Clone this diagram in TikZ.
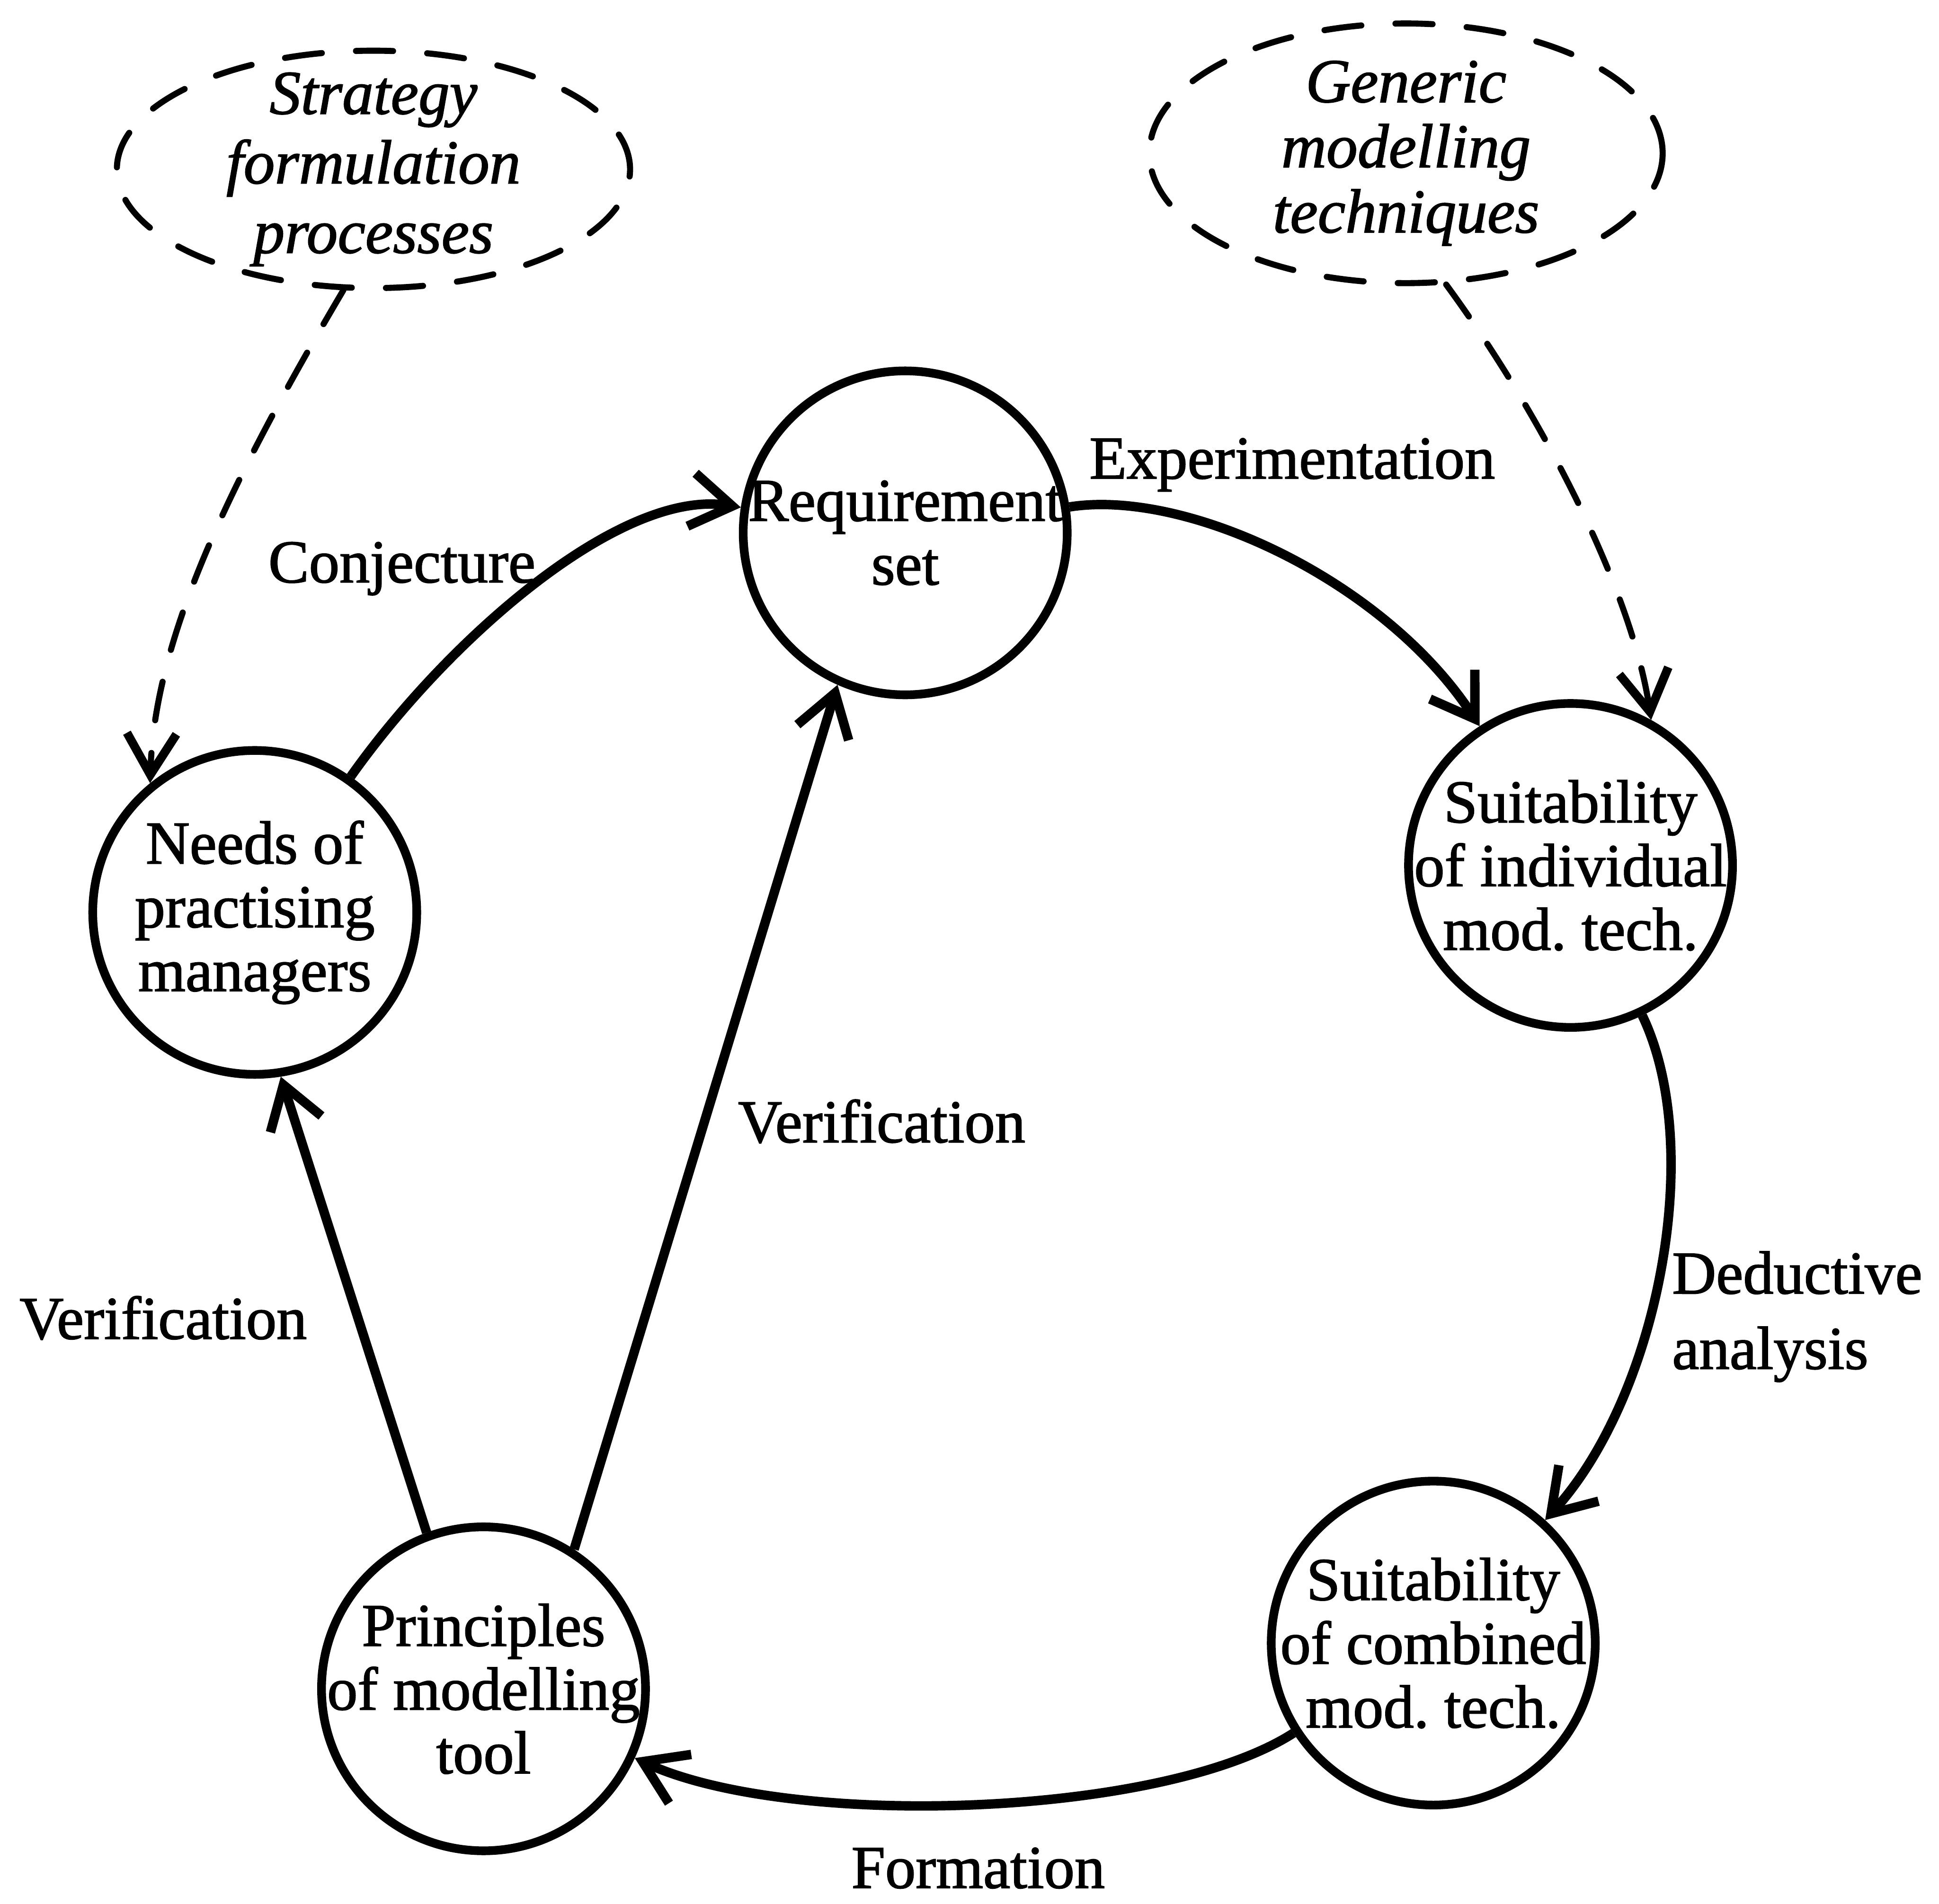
\documentclass[tikz,border=0pt]{standalone}
\usepackage{fontspec}
\setmainfont{Liberation Serif}[FakeBold=1.5]
\usetikzlibrary{shapes.geometric,arrows.meta}

\begin{document}
\begin{tikzpicture}[x=0.03cm,y=-0.03cm,
  stage/.style={circle,draw,line width=6pt,minimum size=7.86cm,inner sep=0pt},
  pool/.style={ellipse,draw,line width=4.2pt,line cap=round,dash pattern=on 0.9cm off 0.83cm,inner sep=0pt},
  stagetext/.style={align=center,font=\fontsize{42pt}{44pt}\selectfont,inner sep=0pt},
  pooltext/.style={align=center,font=\fontsize{43pt}{48pt}\selectfont\itshape,inner sep=0pt},
  flow/.style={line width=6.5pt,-{Straight Barb[length=1.0cm,width=1.3cm]}},
  feed/.style={line width=4.2pt,line cap=round,dash pattern=on 0.95cm off 0.8cm,
    -{Straight Barb[length=1.0cm,width=1.2cm,line width=6pt]}},
  lbl/.style={font=\fontsize{42pt}{52pt}\selectfont,inner sep=0pt},
]
\useasboundingbox (0,0) rectangle (1568,1540);

% process stages
\node[stage,label={[stagetext]center:{Requirement\\set}}] (req) at (732,431) {};
\node[stage,label={[stagetext]center:{Needs of\\practising\\managers}}] (needs) at (206,738) {};
\node[stage,label={[stagetext]center:{Suitability\\of individual\\mod.\ tech.}}] (indiv) at (1270,700) {};
\node[stage,label={[stagetext]center:{Suitability\\of combined\\mod.\ tech.}}] (comb) at (1159,1329) {};
\node[stage,label={[stagetext]center:{Principles\\of modelling\\tool}}] (princ) at (391,1366) {};

% external sources
\node[pool,minimum width=12.45cm,minimum height=5.76cm,
  label={[pooltext]center:{Strategy\\formulation\\processes}}] (strat) at (302,137) {};
\node[pool,minimum width=12.45cm,minimum height=6.3cm,
  label={[pooltext,font=\fontsize{43pt}{45pt}\selectfont\itshape]center:{Generic\\modelling\\techniques}}] (gen) at (1137,124) {};

% main cycle
\draw[flow] (needs) .. controls (360,520) and (500,395) .. (req);
\draw[flow] (req) .. controls (960,395) and (1120,470) .. (indiv);
\draw[flow] (indiv) .. controls (1380,930) and (1340,1130) .. (comb);
\draw[flow] (comb) .. controls (940,1470) and (640,1480) .. (princ);
\draw[flow] (princ.110) -- (needs.-81);
\draw[flow] (princ.57) -- (req.246);

% influences
\draw[feed] (strat.-104) .. controls (180,400) and (125,520) .. (needs.129);
\draw[feed] (gen.-73) .. controls (1250,340) and (1320,480) .. (indiv.61);

% arc labels
\node[lbl] (l-conj) at (325,460) {Conjecture};
\node[lbl] (l-exp) at (1045,376) {Experimentation};
\node[lbl,anchor=west,align=left] (l-ded) at (1352,1065) {Deductive\\analysis};
\node[lbl] (l-form) at (791,1511) {Formation};
\node[lbl] (l-ver1) at (132,1066) {Verification};
\node[lbl] (l-ver2) at (713,907) {Verification};
\end{tikzpicture}
\end{document}
